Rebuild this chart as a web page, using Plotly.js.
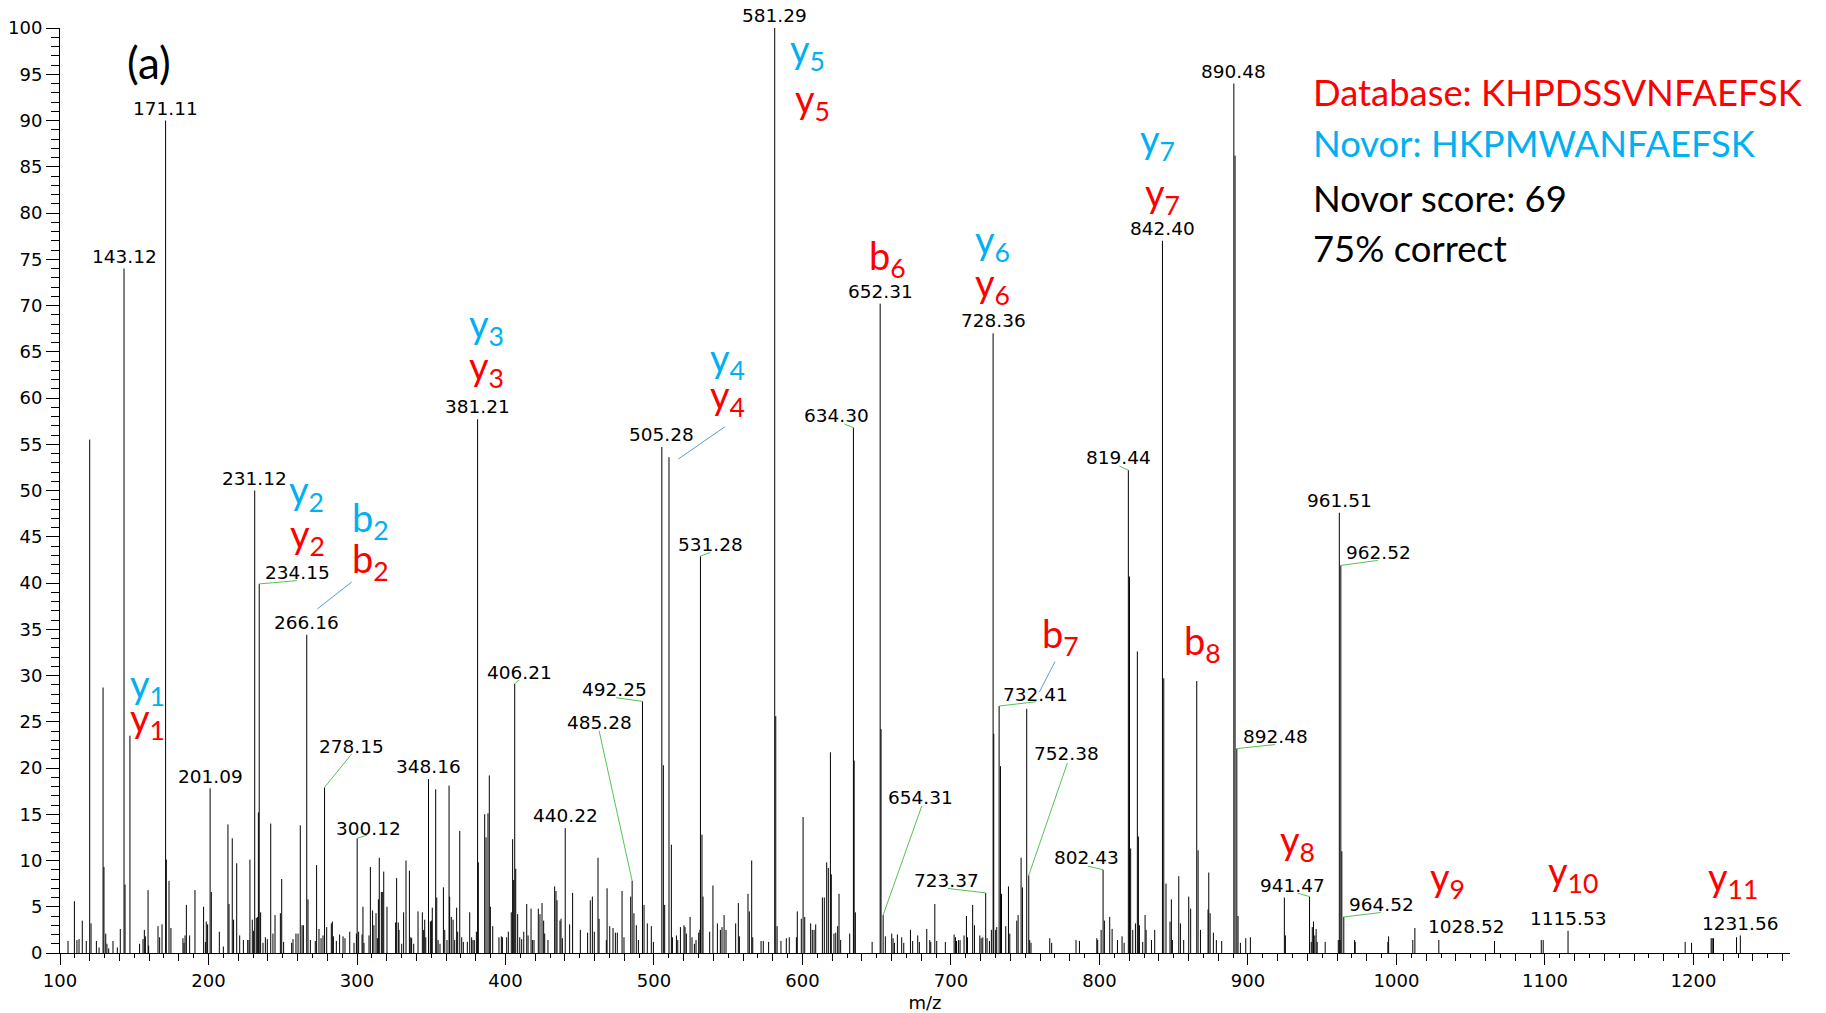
<!DOCTYPE html>
<html>
<head>
<meta charset="utf-8">
<script src="https://cdn.plot.ly/plotly-3.0.1.min.js"></script>
<style>
  html, body { margin: 0; padding: 0; background: #fff; }
  #chart { width: 1826px; height: 1013px; }
</style>
</head>
<body>
<div id="chart"></div>
<script>
// ---------------- DATA ----------------
// peak m/z values and relative intensities (%)
const peakMz = [
  105.4,109.7,111.4,112.8,115.0,117.7,120.0,120.9,124.5,126.3,129.0,129.6,130.8,131.6,132.8,135.7,138.6,140.6,
  143.12,143.8,147.1,153.6,155.9,156.8,157.5,159.3,159.7,166.0,167.1,168.7,171.11,171.6,173.4,174.7,
  182.8,183.5,184.2,185.1,187.3,190.9,196.7,197.9,198.5,199.4,201.09,201.9,207.3,210.0,213.1,213.8,216.0,216.9,
  219.0,221.0,223.5,226.4,227.3,227.9,229.5,230.4,231.12,232.2,233.1,233.6,234.15,235.1,236.7,238.3,239.6,
  241.9,243.4,244.8,248.4,249.3,250.6,256.0,256.9,258.9,260.3,261.8,263.0,263.9,266.16,267.0,268.6,271.9,
  272.8,274.4,275.8,277.1,278.15,279.6,282.7,283.4,284.1,286.1,288.3,290.6,291.9,295.1,298.0,299.6,300.12,
  301.1,303.4,304.0,304.7,308.1,309.0,310.5,311.4,312.8,313.7,314.4,315.0,316.4,317.3,318.0,320.2,326.0,326.7,327.8,
  328.3,330.1,331.4,333.0,335.3,336.2,336.8,338.2,341.1,344.0,344.9,345.6,346.3,348.16,349.4,350.1,350.7,
  353.0,353.7,354.6,355.9,358.2,359.1,360.6,362.0,362.4,363.5,364.7,365.8,367.1,367.8,369.2,370.5,371.6,
  374.3,375.9,377.2,378.1,379.0,380.4,381.21,381.7,386.0,386.9,388.2,389.1,389.8,391.4,395.6,397.2,397.9,
  400.8,401.9,403.9,404.8,405.5,406.21,406.9,408.2,409.6,410.9,412.3,414.3,415.2,417.2,418.1,419.2,422.1,
  423.2,424.6,425.7,426.4,428.6,433.1,434.0,434.7,436.7,437.4,438.3,440.22,443.2,445.2,450.4,455.3,457.1,
  458.5,459.8,462.3,463.0,467.9,468.4,470.2,472.4,474.0,475.3,478.5,479.8,484.3,485.28,486.5,488.1,489.5,
  492.25,493.3,495.5,498.2,499.6,505.28,506.3,507.2,510.1,511.7,512.4,515.1,516.0,517.8,520.2,520.9,521.8,
  524.3,525.6,527.2,528.3,530.1,530.9,531.28,532.3,533.0,537.5,539.7,542.7,544.7,545.8,547.2,548.5,555.0,
  556.8,557.5,563.3,564.2,565.8,566.5,572.1,573.6,577.2,581.29,582.0,582.9,585.5,589.1,591.1,595.9,596.5,
  599.2,600.4,601.5,605.5,606.6,607.8,608.9,613.4,614.7,616.3,617.4,618.8,619.4,621.2,622.4,623.7,624.6,625.7,
  631.8,634.30,634.8,635.6,646.9,652.31,652.9,654.31,655.8,660.1,661.0,661.9,663.9,666.8,668.2,672.7,674.2,
  677.6,678.7,683.7,685.7,686.4,689.1,690.4,696.2,702.1,703.0,703.7,705.0,706.1,708.8,710.4,711.1,714.6,
  715.8,719.4,720.3,721.4,723.37,724.3,725.9,727.2,728.36,728.8,730.1,730.8,732.41,733.3,734.0,736.9,
  738.7,739.6,744.3,745.2,747.2,748.1,751.0,752.38,753.0,753.9,766.5,767.8,784.2,786.5,798.2,798.8,801.1,
  802.43,803.3,806.9,808.5,812.1,815.2,816.6,819.44,820.2,821.0,822.4,824.2,825.5,826.2,826.9,829.1,830.7,
  831.4,835.0,837.2,842.40,843.3,844.8,847.5,848.4,849.1,853.4,854.5,856.7,860.1,861.4,865.5,866.4,868.0,
  873.1,873.6,874.5,876.7,878.7,882.3,890.48,891.3,892.48,893.3,894.9,898.5,901.6,924.5,925.2,
  941.47,942.6,943.3,944.1,945.0,945.9,946.6,952.0,960.8,961.51,962.0,962.52,963.2,964.52,971.8,972.2,
  994.2,994.7,1011.0,1012.4,1028.52,1066.0,1097.5,1098.8,1115.53,1194.4,1198.7,1211.9,1212.6,1213.5,
  1229.0,1231.56
];
const peakInt = [
  1.3,5.6,1.4,1.5,3.5,1.3,55.5,3.2,1.3,0.6,28.7,9.3,2.1,1.0,0.5,1.3,0.6,2.6,
  74.0,7.4,23.5,1.0,1.5,2.5,1.8,6.8,0.8,2.9,1.7,3.1,90.0,10.1,7.8,2.7,
  1.6,1.1,1.9,5.2,1.9,6.8,5.0,1.2,3.4,3.1,17.8,6.6,2.3,0.7,13.9,5.3,12.4,3.6,
  9.7,1.9,1.4,1.4,1.4,10.1,3.6,2.4,50.0,3.8,3.9,15.2,39.9,4.4,1.1,1.7,1.5,
  14.0,2.1,4.1,4.3,8.0,1.2,1.1,1.5,2.1,2.1,13.8,3.0,3.0,34.4,5.8,1.4,1.3,
  9.5,2.6,1.6,1.9,17.9,2.8,3.2,3.4,1.8,1.3,2.0,1.8,1.6,2.3,1.1,2.1,12.4,
  2.3,2.0,5.0,1.1,1.9,9.3,4.6,3.0,4.3,1.6,5.8,10.3,6.6,6.6,8.8,5.0,3.3,8.1,3.3,
  2.5,1.0,4.4,10.0,8.9,1.7,1.6,1.0,4.5,4.4,2.5,3.6,1.7,18.8,3.4,3.5,4.9,
  17.7,6.0,1.4,1.0,7.1,2.5,1.4,18.1,6.1,3.9,3.6,1.4,4.9,2.3,13.2,1.7,1.2,
  1.2,4.4,1.7,1.4,1.4,2.3,57.7,9.8,15.0,12.5,15.1,19.2,5.0,2.9,1.7,1.8,1.7,
  1.7,2.3,4.4,12.3,7.9,29.1,9.1,4.2,1.7,1.5,2.3,5.3,1.9,4.8,1.4,1.4,4.8,
  4.2,5.4,3.5,2.1,1.4,7.2,6.7,5.7,3.5,3.7,1.6,13.5,3.1,6.5,2.5,2.2,5.7,
  6.1,2.3,10.3,3.7,1.4,7.0,2.9,2.7,2.2,2.2,6.7,1.7,6.1,7.8,4.3,3.0,1.4,
  27.2,5.2,3.2,2.9,1.2,54.7,20.3,5.2,53.6,11.7,1.7,1.9,1.4,2.8,3.0,2.8,2.1,
  3.9,1.7,1.0,1.4,2.2,2.5,42.9,12.8,6.1,2.3,7.3,3.2,2.5,2.8,4.1,2.5,3.2,
  5.4,1.8,6.4,4.5,10.0,1.7,1.3,1.3,1.2,100.0,25.6,2.9,1.3,1.6,1.7,1.7,4.5,
  3.7,14.7,3.9,3.2,2.5,2.5,3.1,6.0,6.0,9.8,9.2,21.7,8.5,2.1,2.2,2.9,6.4,1.4,
  2.1,56.8,20.8,4.4,1.2,70.2,24.2,4.1,1.8,2.1,1.6,1.1,2.0,1.7,1.1,2.5,1.3,
  1.9,1.2,2.6,1.4,1.2,5.3,1.3,1.2,2.0,1.7,1.3,1.4,1.4,1.9,4.0,1.7,5.2,
  3.0,1.9,1.6,1.7,6.5,1.6,1.3,2.5,67.0,23.7,2.5,2.8,26.7,20.2,6.4,2.9,
  7.2,2.1,3.5,4.1,10.3,7.1,26.4,8.4,1.4,1.1,1.6,1.1,1.4,1.3,1.6,1.4,2.5,
  9.0,3.5,3.9,2.6,1.4,1.8,1.1,52.2,40.7,11.3,2.5,3.2,32.6,12.6,3.0,1.2,4.1,
  2.5,1.4,2.5,77.0,29.7,7.5,3.4,5.8,1.4,8.3,3.2,1.4,6.1,4.8,29.4,11.1,2.5,
  4.7,8.7,4.3,2.2,1.4,1.3,94.0,86.2,22.1,4.0,1.1,1.6,1.7,6.0,1.9,
  6.1,1.2,2.8,3.4,1.9,2.6,1.2,1.2,1.4,47.6,1.4,41.9,11.0,3.9,1.4,1.2,
  1.2,1.8,1.4,2.7,1.4,1.3,1.4,1.4,2.4,1.2,1.1,1.6,1.6,1.6,
  1.7,1.9
];

// peaks carrying an m/z label
const labeledMz = [143.12,171.11,201.09,231.12,234.15,266.16,278.15,300.12,348.16,381.21,406.21,440.22,
  485.28,492.25,505.28,531.28,581.29,634.30,652.31,654.31,723.37,728.36,732.41,752.38,802.43,819.44,
  842.40,890.48,892.48,941.47,961.51,962.52,964.52,1028.52,1115.53,1231.56];

// fragment ion annotations (Novor = blue, Database = red)
const ionNames  = ['y1','y1','y2','y2','b2','b2','y3','y3','y4','y4','y5','y5','b6','y6','y6',
                   'b7','y7','y7','b8','y8','y9','y10','y11'];
const ionSource = ['Novor','Database','Novor','Database','Novor','Database','Novor','Database',
                   'Novor','Database','Novor','Database','Database','Novor','Database',
                   'Database','Novor','Database','Database','Database','Database','Database','Database'];

const infoLines  = ['Database: KHPDSSVNFAEFSK','Novor: HKPMWANFAEFSK','Novor score: 69','75% correct'];
const infoSource = ['Database','Novor','Score','Score'];

// ---------------- STYLE / LAYOUT CONFIG ----------------
const COLORS = { Database: '#FF0000', Novor: '#00B0F0', Score: '#000000' };
const GREEN = '#55C255', BLUE_LINE = '#5B9BD5';
const NUM_FONT = { family: 'DejaVu Sans, Arial, sans-serif', size: 18.5, color: '#000' };
const TICK_FONT = { family: 'DejaVu Sans, Arial, sans-serif', size: 18, color: '#000' };
const ION_FONT = 'Lato, Calibri, sans-serif';
const ION_SIZE = 38, ION_YSHIFT = -5;

// label text offset (px, screen dx, dy) and optional green leader end (px)
const labelOffsets = {
  '234.15': [38,-11.3, 37.7,-3.3], '278.15': [27.1,-41.3, 27,-33.3], '300.12': [11.3,-10.3, 10,-3.3],
  '406.21': [4.3,-11.6, 4.3,-4], '485.28': [-33,-158, -33,-150], '492.25': [-27.7,-12, -26.4,-3.7],
  '531.28': [10.5,-11.2, 9.7,-3.7], '634.30': [-17,-11.7, -9,-3.5], '654.31': [37.3,-117.7, 38.6,-109],
  '723.37': [-39,-12, -37.7,-4.4], '732.41': [36.7,-11.7, 37,-4.3], '752.38': [38.1,-121.7, 38.6,-112.3],
  '802.43': [-16.6,-12.6, -15.3,-3.6], '819.44': [-9.7,-12.4, -9,-4], '892.48': [38.3,-11.6, 38,-4],
  '941.47': [-16.7,-11.5, -11.7,-3.3], '962.52': [38,-12.5, 37,-5], '964.52': [37.7,-12.7, 37,-4.4],
  '1028.52': [27.6,-13.3]
};
const ABOVE = [0, -12.3];

// ion label positions (left edge m/z, vertical middle intensity) in data units
const ionPos = [
  [146.0,29.4],[146.0,25.7],[252.7,50.4],[253.7,45.6],[295.3,47.4],[295.3,42.9],[373.9,68.3],[373.9,63.8],
  [536.6,64.7],[536.6,60.6],[590.4,98.1],[593.8,92.7],[643.2,75.7],[715.0,77.4],[714.6,72.8],
  [759.9,34.8],[826.1,88.3],[829.1,82.5],[855.3,34.1],[920.4,12.5],[1021.0,8.5],[1100.7,9.2],[1208.4,8.5]
];
// blue connector lines [x0,y0,x1,y1] in data units
const blueLinks = [[296.4,40.1,273.3,37.2],[547.8,56.9,516.4,53.4],[770.0,31.5,759.5,28.2]];

// ---------------- BUILD ----------------
const sx = [], sy = [];
peakMz.forEach((m, i) => { sx.push(m, m, null); sy.push(0, peakInt[i], null); });

const traces = [
  { x: sx, y: sy, type: 'scatter', mode: 'lines', line: { color: '#000', width: 1 },
    hoverinfo: 'skip', showlegend: false, cliponaxis: false },
  { x: [], y: [], type: 'scatter', mode: 'lines', xaxis: 'x2', yaxis: 'y', showlegend: false, hoverinfo: 'skip' }
];

const annotations = [];
const shapes = [];

labeledMz.forEach(m => {
  const idx = peakMz.indexOf(m);
  const inten = peakInt[idx];
  const key = m.toFixed(2);
  const off = labelOffsets[key] || ABOVE;
  annotations.push({
    x: m, y: inten, xref: 'x', yref: 'y', text: key, showarrow: false,
    xanchor: 'center', yanchor: 'middle', xshift: off[0], yshift: -off[1],
    font: NUM_FONT
  });
  if (off.length === 4) {
    shapes.push({
      type: 'line', xref: 'x', yref: 'y', xsizemode: 'pixel', ysizemode: 'pixel',
      xanchor: m, yanchor: inten, x0: 0, y0: 0, x1: off[2], y1: -off[3],
      line: { color: GREEN, width: 1 }
    });
  }
});

ionNames.forEach((n, i) => {
  annotations.push({
    x: ionPos[i][0], y: ionPos[i][1], xref: 'x', yref: 'y', yshift: ION_YSHIFT,
    text: n[0] + '<sub>' + n.slice(1) + '</sub>', showarrow: false,
    xanchor: 'left', yanchor: 'middle',
    font: { family: ION_FONT, size: ION_SIZE, color: COLORS[ionSource[i]] }
  });
});

blueLinks.forEach(l => shapes.push({
  type: 'line', xref: 'x', yref: 'y', x0: l[0], y0: l[1], x1: l[2], y1: l[3],
  line: { color: BLUE_LINE, width: 1 }
}));

const infoY = [0.9308, 0.8754, 0.8159, 0.7618];
infoLines.forEach((t, i) => annotations.push({
  x: 0.7234, y: infoY[i], xref: 'paper', yref: 'paper', text: t, showarrow: false,
  xanchor: 'left', yanchor: 'middle',
  font: { family: ION_FONT, size: 36.4, color: COLORS[infoSource[i]] }
}));

annotations.push({
  x: 0.0376, y: 0.963, xref: 'paper', yref: 'paper', text: '(a)', showarrow: false,
  xanchor: 'left', yanchor: 'middle', font: { family: ION_FONT, size: 44, color: '#000' }
});

const layout = {
  width: 1826, height: 1013,
  margin: { l: 60, r: 36, t: 28, b: 60 },
  paper_bgcolor: '#fff', plot_bgcolor: '#fff',
  showlegend: false,
  font: TICK_FONT,
  xaxis: {
    range: [100, 1265], showline: true, linecolor: '#000', linewidth: 1,
    ticks: 'outside', tick0: 0, dtick: 100, ticklen: 11, tickwidth: 1, tickcolor: '#000',
    minor: { dtick: 10, tick0: 0, ticks: 'outside', ticklen: 4, tickwidth: 1, tickcolor: '#000' },
    showgrid: false, zeroline: false, tickfont: TICK_FONT,
    title: { text: 'm/z', font: TICK_FONT, standoff: 8 }
  },
  xaxis2: {
    overlaying: 'x', anchor: 'y', side: 'bottom', range: [100, 1265],
    ticks: 'outside', tick0: 0, dtick: 20, ticklen: 7, tickwidth: 1, tickcolor: '#000',
    showticklabels: false, showgrid: false, zeroline: false, showline: false
  },
  yaxis: {
    range: [0, 100], showline: true, linecolor: '#000', linewidth: 1,
    ticks: 'outside', tick0: 0, dtick: 5, ticklen: 13, tickwidth: 1, tickcolor: '#000',
    minor: { dtick: 1, tick0: 0, ticks: 'outside', ticklen: 8, tickwidth: 1, tickcolor: '#000' },
    showgrid: false, zeroline: false, tickfont: TICK_FONT
  },
  annotations: annotations,
  shapes: shapes
};

Plotly.newPlot('chart', traces, layout, { staticPlot: true, displayModeBar: false });
</script>
</body>
</html>
